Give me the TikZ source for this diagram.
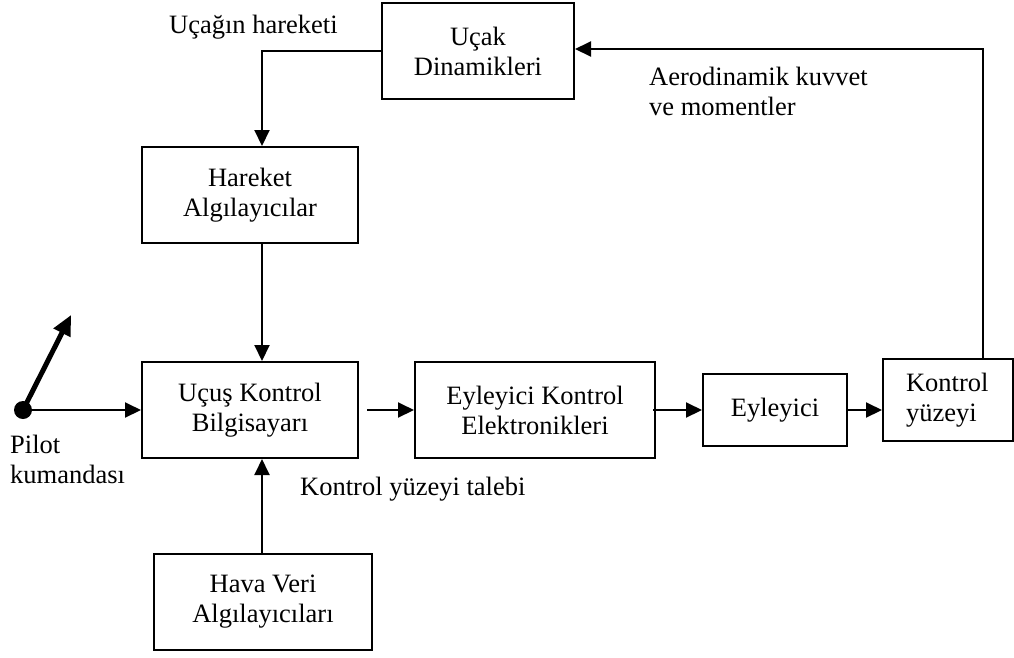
\documentclass[tikz,border=0pt]{standalone}
\usepackage{fontspec}
\setmainfont{Liberation Serif}
\usetikzlibrary{arrows.meta}
\begin{document}
\begin{tikzpicture}[x=1pt,y=-1pt,
  font=\fontsize{26.5}{30}\selectfont,
  block/.style={draw, line width=2pt, inner sep=0pt, align=center},
  conn/.style={line width=2pt, -{Triangle[length=16pt,width=15pt]}},
  lbl/.style={anchor=base west, inner sep=0pt}]
\useasboundingbox (0,0) rectangle (1014,657);

% blocks
\node[block, minimum width=192, minimum height=96] (uc)  at (478,51)   {Uçak\\Dinamikleri};
\node[block, minimum width=216, minimum height=96] (hr)  at (250,195)  {Hareket\\Algılayıcılar};
\node[block, minimum width=216, minimum height=96] (ukb) at (250,410)  {Uçuş Kontrol\\Bilgisayarı};
\node[block, minimum width=240, minimum height=96] (ekb) at (535,410)  {Eyleyici Kontrol\\Elektronikleri};
\node[block, minimum width=144, minimum height=72] (ey)  at (775,410)  {Eyleyici};
\node[block, minimum width=130, minimum height=82, align=left,
      text width=84pt, inner xsep=23pt] (ky) at (948,400) {Kontrol\\yüzeyi};
\node[block, minimum width=218, minimum height=96] (hv)  at (263,602)  {Hava Veri\\Algılayıcıları};

% pilot stick
\node[circle, fill, inner sep=0pt, minimum size=18pt] (pd) at (23,410) {};
\coordinate (st) at (71,315);
\draw[line width=5pt, -{Triangle[length=20pt,width=18pt]}] (pd.center) -- (st);

% signal flow
\draw[conn] (uc.west) -| ([xshift=12pt]hr.north);
\draw[conn] ([xshift=12pt]hr.south) -- ([xshift=12pt]ukb.north);
\draw[conn] ([xshift=-1pt]hv.north) -- ([xshift=-1pt]hv.north |- ukb.south);
\draw[conn] (pd.center) -- (ukb.west);
\draw[conn] ([xshift=8pt]ukb.east) -- (ukb.east -| ekb.west);
\draw[conn] ([xshift=-3pt]ekb.east |- ey.west) -- (ey.west);
\draw[conn] ([xshift=-2pt]ey.east) -- (ey.east -| ky.west);
\draw[conn] ([xshift=35pt]ky.north) |- ([yshift=2pt]uc.east);

% annotations
\node[lbl] (t1) at (169,33)  {Uçağın hareketi};
\node[lbl] (t2) at (649,85)  {Aerodinamik kuvvet};
\node[lbl] (t3) at (649,115) {ve momentler};
\node[lbl] (t4) at (10,453)  {Pilot};
\node[lbl] (t5) at (10,483)  {kumandası};
\node[lbl] (t6) at (300,495) {Kontrol yüzeyi talebi};
\end{tikzpicture}
\end{document}
